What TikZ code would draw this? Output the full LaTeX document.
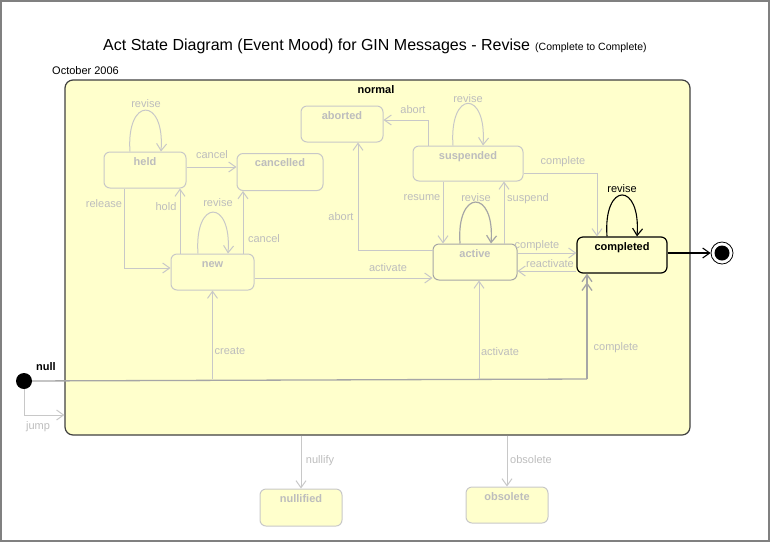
\documentclass[tikz,border=0pt]{standalone}
\usepackage{fontspec}
\setmainfont{Liberation Sans}
\usetikzlibrary{arrows.meta}
\definecolor{yfill}{HTML}{FFFFCC}
\definecolor{fadeln}{HTML}{C8C8C8}
\definecolor{fadetx}{HTML}{BDBDBD}
\definecolor{midln}{HTML}{A6A6A6}
\definecolor{frameln}{HTML}{808080}
\begin{document}
\begin{tikzpicture}[x=1pt,y=-1pt,
  every node/.style={font=\fontsize{11}{13}\selectfont},
  stbox/.style={rectangle, rounded corners=6pt, draw=fadeln, line width=1pt, fill=yfill,
    inner xsep=0pt, inner ysep=0pt, text height=13pt, text depth=23pt,
    font=\fontsize{11}{13}\selectfont\bfseries, text=fadetx},
  lbl/.style={text=fadetx, inner sep=0pt},
  tip/.tip={Straight Barb[length=7pt,width=10pt]},
  tr/.style={draw=fadeln, line width=1pt, -tip},
  darktr/.style={draw=black, line width=1.1pt, -tip},
  bus/.style={draw=midln, line width=1.3pt},
  ]
\useasboundingbox (0,0) rectangle (770,542);
\draw[frameln, line width=2pt] (1,1) rectangle (769,541);

% title
\node[anchor=base west, inner sep=0pt, font=\fontsize{16}{19}\selectfont] (title) at (103,50) {Act State Diagram (Event Mood) for GIN Messages - Revise};
\node[anchor=base west, inner sep=0pt, font=\fontsize{10.5}{12}\selectfont] (subtitle) at (535,50) {(Complete to Complete)};
\node[anchor=base west, inner sep=0pt] (date) at (52,74) {October 2006};

% composite state
\node[rectangle, rounded corners=8pt, draw=black!75, line width=1.2pt, fill=yfill,
  minimum width=625pt, minimum height=355pt, inner sep=0pt] (normal) at (377.5,257.5) {};
\node[font=\fontsize{11}{13}\selectfont\bfseries, inner sep=0pt] (normallbl) at (376,90) {normal};

% states
\node[stbox, minimum width=82pt] (held) at (145,170) {held};
\node[stbox, minimum width=86pt, text depth=24pt] (cancelled) at (280,172) {cancelled};
\node[stbox, minimum width=82pt] (aborted) at (342,124) {aborted};
\node[stbox, minimum width=110pt, text depth=22pt] (suspended) at (468,163.5) {suspended};
\node[stbox, minimum width=84pt, draw=midln] (active) at (475,262) {active};
\node[stbox, minimum width=83pt] (new) at (212.5,272) {new};
\node[stbox, minimum width=90pt, draw=black, line width=1.2pt, text=black] (completed) at (622,255) {completed};
\node[stbox, minimum width=82pt, text depth=24pt] (nullified) at (301,507.5) {nullified};
\node[stbox, minimum width=82pt] (obsolete) at (507,505) {obsolete};

% initial and final
\node[circle, fill=black, minimum size=16pt, inner sep=0pt] (null) at (24,381) {};
\node[font=\fontsize{11}{13}\selectfont\bfseries, inner sep=0pt] (nulllbl) at (46,367) {null};
\node[circle, draw=black, line width=0.8pt, fill=white, minimum size=22pt, inner sep=0pt] (final) at (722,253) {};
\node[circle, fill=black, minimum size=15pt, inner sep=0pt] (finalin) at (final) {};

% transitions in normal
\draw[tr] ([xshift=-15pt]held.north) .. controls +(-4,-55) and +(4,-55) .. ([xshift=16pt]held.north);
\draw[tr] ([yshift=3pt]held.east) -- ([yshift=3pt]held.east -| cancelled.west);
\draw[tr] ([xshift=-21pt]held.south) |- ([yshift=4pt]new.west);
\draw[tr] ([xshift=-32.5pt]new.north) -- ([xshift=-32.5pt]new.north |- held.south);
\draw[tr] ([xshift=-14.5pt]new.north) .. controls +(-4,-55) and +(4,-55) .. ([xshift=15.5pt]new.north);
\draw[tr] ([xshift=30.5pt]new.north) -- ([xshift=30.5pt]new.north |- cancelled.south);
\draw[tr] ([yshift=-6pt]new.east) -- ([yshift=-6pt]new.east -| active.west);
\draw[tr] ([yshift=12pt]active.west) -| ([xshift=16pt]aborted.south);
\draw[tr] ([xshift=-40pt]suspended.north) |- ([yshift=4pt]aborted.east);
\draw[tr] ([xshift=-15pt]suspended.north) .. controls +(-4,-56) and +(4,-56) .. ([xshift=15pt]suspended.north);
\draw[tr] ([xshift=-25pt]suspended.south) -- ([xshift=-25pt]suspended.south |- active.north);
\draw[tr, draw=midln, line width=1.2pt] ([xshift=-15pt]active.north) .. controls +(-4,-55) and +(4,-55) .. ([xshift=16pt]active.north);
\draw[tr] ([xshift=29pt]active.north) -- ([xshift=29pt]active.north |- suspended.south);
\draw[tr] ([yshift=-9.5pt]suspended.east) -| ([xshift=-25pt]completed.north);
\draw[tr] ([yshift=9pt]active.east) -- ([yshift=9pt]active.east -| completed.west);
\draw[tr] ([yshift=-16pt]completed.west) -- ([yshift=-16pt]completed.west -| active.east);
\draw[darktr] ([xshift=-15pt]completed.north) .. controls +(-4,-55) and +(4,-55) .. ([xshift=15pt]completed.north);
\draw[darktr] ([yshift=2pt]completed.east) -- (final.west);

% from null
\coordinate (buscorner) at (587,379);
\draw[bus] (null) -- (buscorner);
\draw[bus, -{Straight Barb[length=7pt,width=10pt] Straight Barb[length=7pt,width=10pt]}] (buscorner) -- ([xshift=-35pt]completed.south);
\draw[tr] (new.south |- buscorner) -- (new.south);
\draw[tr] ([xshift=4pt]active.south |- buscorner) -- ([xshift=4pt]active.south);
\draw[tr] (null.south) |- ([yshift=-157.5pt]normal.west);
\draw[tr] (normal.south -| nullified.north) -- (nullified.north);
\draw[tr] (normal.south -| obsolete.north) -- (obsolete.north);

% labels
\node[lbl] (l1) at (146,104) {revise};
\node[lbl] (l2) at (212,155) {cancel};
\node[lbl] (l3) at (104,204) {release};
\node[lbl] (l4) at (166,207) {hold};
\node[lbl] (l5) at (218,203) {revise};
\node[lbl] (l6) at (264,239) {cancel};
\node[lbl] (l7) at (388,268) {activate};
\node[lbl] (l8) at (341,217) {abort};
\node[lbl] (l9) at (413,110) {abort};
\node[lbl] (l10) at (468,99) {revise};
\node[lbl] (l11) at (422,198) {resume};
\node[lbl] (l12) at (476,198) {revise};
\node[lbl] (l13) at (528,199) {suspend};
\node[lbl] (l14) at (563,162) {complete};
\node[lbl] (l15) at (537,246) {complete};
\node[lbl] (l16) at (550,264) {reactivate};
\node[inner sep=0pt] (l17) at (622,189) {revise};
\node[lbl] (l18) at (230,351) {create};
\node[lbl] (l19) at (500,352) {activate};
\node[lbl] (l20) at (616,348) {complete};
\node[lbl] (l21) at (38,427) {jump};
\node[lbl] (l22) at (320,461) {nullify};
\node[lbl] (l23) at (531,460) {obsolete};
\end{tikzpicture}
\end{document}
